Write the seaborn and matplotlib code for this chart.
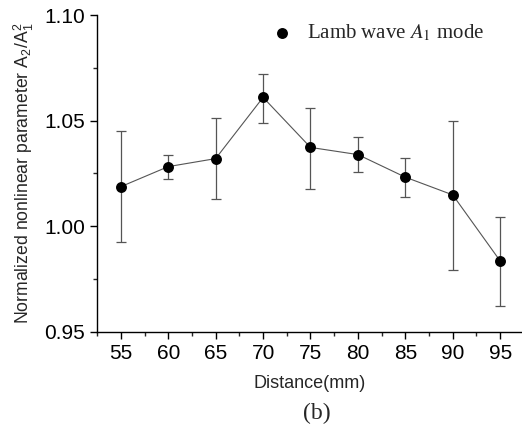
import matplotlib
matplotlib.use("Agg")
import matplotlib.pyplot as plt
import seaborn as sns
import numpy as np
import pandas as pd
from matplotlib.ticker import MultipleLocator

# Data
distance = [55, 60, 65, 70, 75, 80, 85, 90, 95]
ratio = [1.0187, 1.0282, 1.0320, 1.0610, 1.0373, 1.0339, 1.0232, 1.0148, 0.9835]
err_upper = [1.0451, 1.0337, 1.0511, 1.0722, 1.0561, 1.0421, 1.0324, 1.0497, 1.0045]
err_lower = [0.9924, 1.0222, 1.0130, 1.0490, 1.0178, 1.0255, 1.0137, 0.9791, 0.9622]

df = pd.DataFrame({"Distance": distance, "Ratio": ratio})

sns.set_style("ticks")
plt.rcParams['font.family'] = ['Liberation Sans', 'DejaVu Sans']
plt.rcParams['mathtext.fontset'] = 'stix'

fig = plt.figure(figsize=(5.22, 4.30), dpi=100)
ax = fig.add_axes([0.186, 0.2286, 0.814, 0.7364])

# error bars (asymmetric)
yerr = np.array([np.array(ratio) - np.array(err_lower), np.array(err_upper) - np.array(ratio)])
ax.errorbar(distance, ratio, yerr=yerr, fmt='none', ecolor='#555555',
            elinewidth=0.9, capsize=3.5, capthick=0.9, zorder=1)

sns.lineplot(data=df, x="Distance", y="Ratio", color='#555555', linewidth=0.8,
             ax=ax, zorder=2)
sns.scatterplot(data=df, x="Distance", y="Ratio", color='black', s=62,
                edgecolor='black', linewidth=0, ax=ax, zorder=3,
                label=r'Lamb wave $\mathit{A}_1$ mode')

ax.set_xlim(52.5, 97.3)
ax.set_ylim(0.95, 1.10)
ax.xaxis.set_major_locator(MultipleLocator(5))
ax.xaxis.set_minor_locator(MultipleLocator(2.5))
ax.yaxis.set_major_locator(MultipleLocator(0.05))
ax.yaxis.set_minor_locator(MultipleLocator(0.025))
ax.yaxis.set_major_formatter(matplotlib.ticker.FormatStrFormatter('%.2f'))

ax.tick_params(which='major', direction='out', length=5, width=1, labelsize=15, colors='black')
ax.tick_params(which='minor', direction='out', length=3, width=1)
sns.despine(ax=ax)
for s in ['left', 'bottom']:
    ax.spines[s].set_linewidth(1)
    ax.spines[s].set_color('black')

ax.set_xlabel('Distance(mm)', fontsize=13, labelpad=9)
ax.set_ylabel(r'Normalized nonlinear parameter A$_\mathregular{2}$/A$_\mathregular{1}^\mathregular{2}$',
              fontsize=12.7, labelpad=6)

leg = ax.legend(loc='upper right', bbox_to_anchor=(0.955, 1.035), frameon=False,
                handletextpad=0.2, markerscale=1.0,
                prop={'family': 'Liberation Serif', 'size': 15})

fig.text(0.607, 0.025, '(b)', fontsize=17, family='Liberation Serif', ha='center')

fig.savefig('out.png', dpi=100)
